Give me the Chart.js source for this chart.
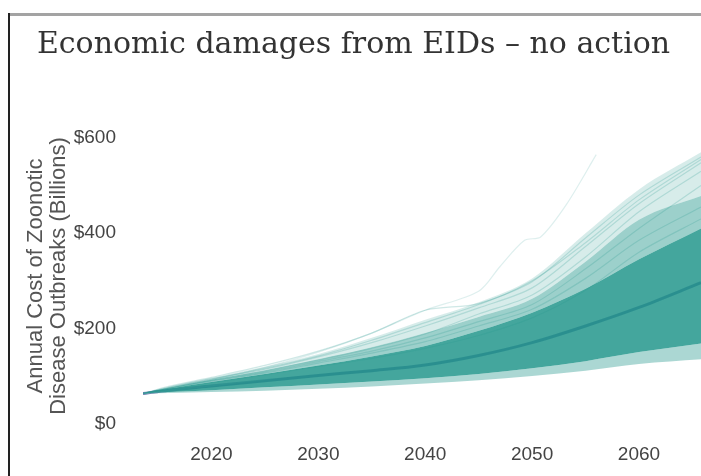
<!DOCTYPE html>
<html>
<head>
<meta charset="utf-8">
<script src="https://cdn.jsdelivr.net/npm/chart.js@4.4.1/dist/chart.umd.min.js"></script>
<style>
  body { margin: 0; background: #fff; }
  #wrap { position: relative; width: 701px; height: 476px; }
  #frameTop { position: absolute; left: 8px; top: 13px; width: 693px; height: 3px; background: #a3a3a3; }
  #frameLeft { position: absolute; left: 8px; top: 13px; width: 2px; height: 463px; background: #222; }
</style>
</head>
<body>
<div id="wrap">
  <canvas id="chart" width="701" height="476"></canvas>
  <div id="frameTop"></div>
  <div id="frameLeft"></div>
</div>
<script>
'use strict';

var years = [2013.6, 2016, 2020, 2025, 2030, 2035, 2040, 2045, 2050, 2055, 2060, 2065.8];

// edges of the fan of simulated runs, $ billions
var edgeLow  = [63, 64, 66, 69, 73, 78, 84, 91, 100, 111, 125, 135];
var denseLow = [63, 66, 70, 76, 82, 88, 95, 104, 116, 131, 150, 168];
var denseTop = [63, 73, 87, 104, 122, 141, 163, 195, 233, 283, 345, 410];
var midTop   = [63, 75, 92, 112, 135, 160, 190, 224, 262, 340, 428, 478];
var lightTop = [63, 77, 96, 119, 146, 180, 218, 255, 305, 400, 492, 570];

// mean of all runs
var meanPath = [63, 70, 79, 90, 101, 111, 123, 143, 170, 205, 244, 296];

// single runs that stand out in the upper part
var runs = [
  [63, 76, 94, 116, 142, 175, 212, 250, 298, 390, 480, 560],
  [63, 75, 93, 114, 140, 170, 205, 243, 285, 372, 462, 548],
  [63, 74, 91, 110, 133, 158, 188, 230, 270, 350, 445, 530],
  [63, 74, 90, 108, 130, 152, 180, 214, 250, 325, 410, 500],
  [63, 73, 89, 106, 127, 148, 172, 205, 240, 305, 385, 455],
  [63, 72, 86, 102, 120, 137, 158, 185, 222, 280, 360, 430],
  [63, 78, 97, 122, 152, 190, 238, 252, 300, 380, 470, 555]
];

// paler streaks inside the dense core
var streaks = [
  [63, 69, 80, 93, 108, 124, 143, 170, 203, 247, 298, 352],
  [63, 71, 84, 99, 116, 134, 155, 185, 220, 268, 325, 385],
  [63, 67, 74, 83, 92, 101, 111, 124, 140, 160, 186, 212]
];

// the one run that shoots up past the rest
var outlierYears  = [2013.6, 2020, 2025, 2030, 2035, 2040, 2045, 2047, 2049.3, 2050.8, 2053.2, 2056];
var outlierValues = [63, 92, 118, 150, 190, 238, 278, 330, 385, 392, 460, 565];

var teal = '35, 150, 140';

function toPoints(xs, ys) {
  var pts = [];
  for (var i = 0; i < ys.length; i++) {
    pts.push({ x: xs[i], y: ys[i] });
  }
  return pts;
}

function band(values, color) {
  return {
    data: toPoints(years, values),
    borderWidth: 0,
    borderColor: 'rgba(0,0,0,0)',
    backgroundColor: color,
    fill: '-1',
    pointRadius: 0,
    cubicInterpolationMode: 'monotone'
  };
}

function thinLine(xs, values, color, width) {
  return {
    data: toPoints(xs, values),
    borderColor: color,
    borderWidth: width,
    fill: false,
    pointRadius: 0,
    tension: 0.3
  };
}

var datasets = [];
datasets.push({
  data: toPoints(years, edgeLow),
  borderWidth: 0,
  borderColor: 'rgba(0,0,0,0)',
  fill: false,
  pointRadius: 0,
  cubicInterpolationMode: 'monotone'
});
datasets.push(band(denseLow, 'rgba(' + teal + ', 0.38)'));
datasets.push(band(denseTop, 'rgba(' + teal + ', 0.85)'));
datasets.push(band(midTop, 'rgba(' + teal + ', 0.45)'));
datasets.push(band(lightTop, 'rgba(' + teal + ', 0.18)'));

for (var r = 0; r < runs.length; r++) {
  datasets.push(thinLine(years, runs[r], 'rgba(' + teal + ', 0.22)', 1.2));
}
for (var s = 0; s < streaks.length; s++) {
  datasets.push(thinLine(years, streaks[s], 'rgba(255, 255, 255, 0.18)', 1.5));
}
datasets.push(thinLine(outlierYears, outlierValues, 'rgba(' + teal + ', 0.15)', 1.2));

datasets.push({
  data: toPoints(years, meanPath),
  borderColor: 'rgba(60, 84, 148, 0.85)',
  borderWidth: 3,
  fill: false,
  pointRadius: 0,
  cubicInterpolationMode: 'monotone'
});

var tickFont = { family: '"Liberation Sans", Arial, sans-serif', size: 19 };

new Chart(document.getElementById('chart').getContext('2d'), {
  type: 'line',
  data: { datasets: datasets },
  options: {
    responsive: false,
    animation: false,
    layout: { padding: { left: 6, right: 0, top: 0, bottom: 10 } },
    plugins: {
      legend: { display: false },
      tooltip: { enabled: false },
      title: {
        display: true,
        text: 'Economic damages from EIDs \u2013 no action',
        color: '#333',
        font: { family: '"DejaVu Serif", Georgia, serif', size: 30, weight: 'normal', lineHeight: 1.2 },
        padding: { top: 27, bottom: 56 }
      }
    },
    scales: {
      x: {
        type: 'linear',
        min: 2013.6,
        max: 2065.8,
        afterFit: function (scale) { scale.height = 33; },
        grid: { display: false, drawTicks: false },
        border: { display: false },
        ticks: {
          stepSize: 10,
          includeBounds: false,
          maxRotation: 0,
          padding: 10,
          color: '#444',
          font: tickFont,
          callback: function (v) { return String(v); }
        }
      },
      y: {
        min: -20,
        max: 640,
        afterFit: function (scale) { scale.width = 137; },
        grid: { display: false, drawTicks: false },
        border: { display: false },
        ticks: {
          stepSize: 200,
          includeBounds: false,
          padding: 27,
          color: '#444',
          font: tickFont,
          callback: function (v) { return '$' + v; }
        },
        title: {
          display: true,
          text: ['Annual Cost of Zoonotic', 'Disease Outbreaks (Billions)'],
          color: '#555',
          font: { family: '"Liberation Sans", Arial, sans-serif', size: 22, lineHeight: 1.05 },
          padding: { top: 18.5, bottom: 1 }
        }
      }
    }
  }
});
</script>
</body>
</html>
